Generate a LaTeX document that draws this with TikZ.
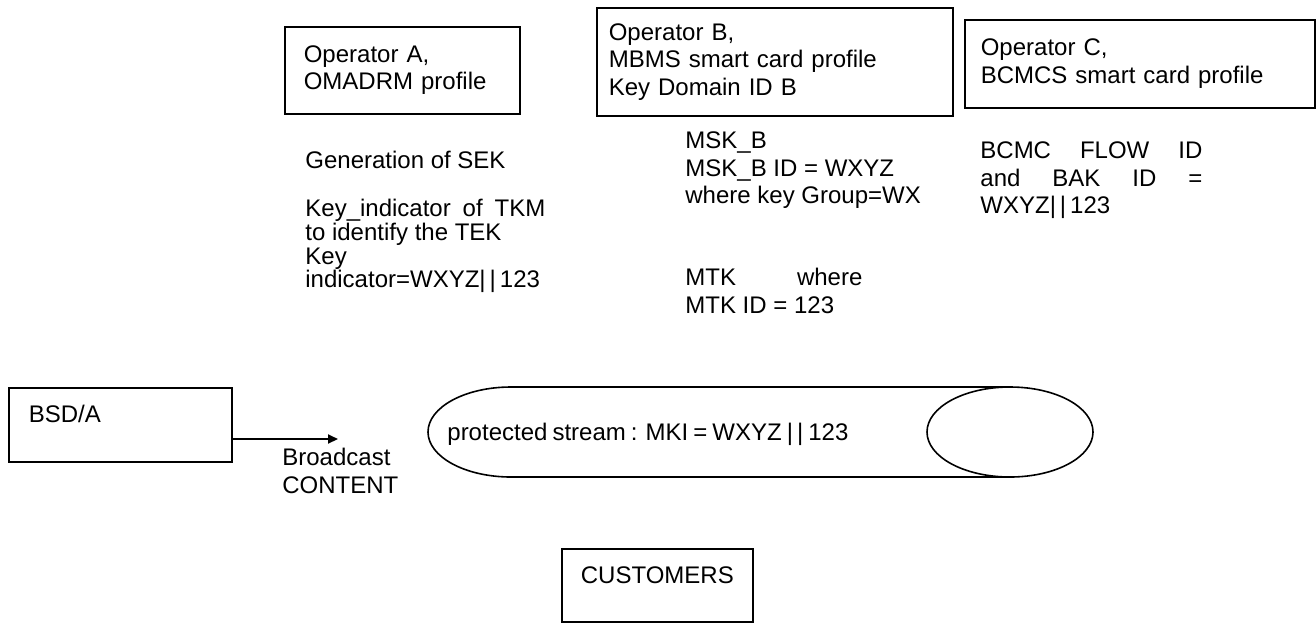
\documentclass[tikz,border=0pt]{standalone}
\usepackage{fontspec}
\setmainfont{Liberation Sans}
\usetikzlibrary{arrows.meta}
\begin{document}
\begin{tikzpicture}[x=0.5pt,y=-0.5pt,
  font=\fontsize{12}{13.8}\selectfont,
  box/.style={draw, line width=0.8pt, inner ysep=0pt, anchor=north west, align=left},
  txt/.style={inner sep=0pt, anchor=north west, align=left},
  cyl/.style={line width=0.8pt},
  conn/.style={line width=1pt, -{Triangle[length=5pt,width=4.5pt]}}]
\useasboundingbox (0,0) rectangle (1316,622);

% operator boxes
\node[box, minimum width=117.5pt, minimum height=43.5pt, inner xsep=9.5pt, text width=98.5pt]
  (opA) at (284,26) {Operator A,\\OMADRM profile};
\node[box, minimum width=178pt, minimum height=54pt, inner xsep=6pt, text width=166pt]
  (opB) at (596,7) {Operator B,\\MBMS smart card profile\\Key Domain ID B};
\node[box, minimum width=175pt, minimum height=44pt, inner xsep=8pt, text width=159pt]
  (opC) at (964,19) {Operator C,\\BCMCS smart card profile};

% texts under operator A
\node[inner sep=0pt, anchor=base west] (gen) at (305,168) {Generation of SEK};
\node[txt, font=\fontsize{12}{11.9}\selectfont] (keyind) at (305,198)
  {\rule{0pt}{9pt}\makebox[120pt][s]{Key\_indicator of TKM}\\to identify the TEK\\Key\\indicator=WXYZ|\,|\,123};

% texts under operator B
\node[txt] (msk) at (685,130)
  {\rule{0pt}{9pt}MSK\_B\\MSK\_B ID = WXYZ\\where key Group=WX};
\node[txt, font=\fontsize{12}{14}\selectfont] (mtk) at (685,267)
  {\rule{0pt}{9pt}\makebox[88.5pt][s]{MTK where}\\MTK ID = 123};

% texts under operator C
\node[txt] (bcmc) at (980,140)
  {\rule{0pt}{9pt}\makebox[111pt][s]{BCMC FLOW ID}\\\makebox[111pt][s]{and BAK ID =}\\WXYZ|\,|\,123};

% BSD/A box and arrow
\node[box, minimum width=111.5pt, inner xsep=10pt, text width=91.5pt,
      text height=17.5pt, text depth=19.5pt] (bsd) at (8,387) {BSD/A};
\coordinate (bcend) at (338,439);
\draw[conn] (bsd.east |- bcend) -- (bcend);
\node[txt] (bclabel) at (282,447) {\rule{0pt}{9pt}Broadcast\\CONTENT};

% protected stream cylinder
\draw[cyl] (511,387) -- (1010,387) (511,477) -- (1010,477);
\draw[cyl] (511,387) arc[start angle=90, end angle=270, x radius=41.5pt, y radius=22.5pt];
\draw[cyl, fill=white] (1010,432) ellipse[x radius=41.5pt, y radius=22.5pt];
\node[inner sep=0pt, anchor=base west] (stream) at (447,440)
  {\makebox[200.5pt][s]{protected stream : MKI = WXYZ |\,| 123}};

% customers
\node[box, anchor=north west, minimum width=95.5pt, inner xsep=0pt,
      text height=17.5pt, text depth=19pt, align=center] (cust) at (561,548) {CUSTOMERS};
\end{tikzpicture}
\end{document}
